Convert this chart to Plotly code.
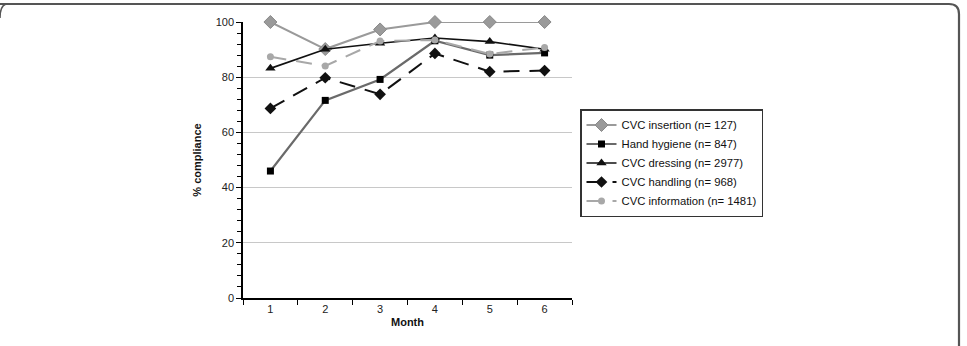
import plotly.graph_objects as go

months = ["1", "2", "3", "4", "5", "6"]
cvc_insertion = [100, 90.2, 97.3, 100, 100, 100]
hand_hygiene = [46, 71.6, 79.2, 93.2, 88.0, 88.8]
cvc_dressing = [83.2, 90.1, 92.3, 94.2, 92.9, 90.1]
cvc_handling = [68.7, 79.8, 73.8, 88.6, 82.0, 82.4]
cvc_information = [87.4, 84.1, 93.1, 93.5, 88.4, 90.8]

names = ["CVC insertion (n= 127)", "Hand hygiene (n= 847)", "CVC dressing (n= 2977)",
         "CVC handling (n= 968)", "CVC information (n= 1481)"]

fig = go.Figure()
fig.add_trace(go.Scatter(x=months, y=cvc_insertion, name=names[0], mode="lines+markers",
                         cliponaxis=False,
                         line=dict(color="#9a9a9a", width=2),
                         marker=dict(symbol="diamond", size=10, color="#9a9a9a",
                                     line=dict(color="#8a8a8a", width=1))))
fig.add_trace(go.Scatter(x=months, y=hand_hygiene, name=names[1], mode="lines+markers",
                         cliponaxis=False,
                         line=dict(color="#6a6a6a", width=2.2),
                         marker=dict(symbol="square", size=7, color="#000000")))
fig.add_trace(go.Scatter(x=months, y=cvc_dressing, name=names[2], mode="lines+markers",
                         cliponaxis=False,
                         line=dict(color="#111111", width=1.6),
                         marker=dict(symbol="triangle-up", size=9, color="#111111")))
fig.add_trace(go.Scatter(x=months, y=cvc_handling, name=names[3], mode="lines+markers",
                         cliponaxis=False,
                         line=dict(color="#111111", width=2, dash="16px,10px"),
                         marker=dict(symbol="diamond", size=9, color="#111111")))
fig.add_trace(go.Scatter(x=months, y=cvc_information, name=names[4], mode="lines+markers",
                         cliponaxis=False,
                         line=dict(color="#a8a8a8", width=2, dash="16px,10px"),
                         marker=dict(symbol="circle", size=7, color="#a8a8a8")))

# plot area: x 243..572, y 22..298 in pixels
L, R, T, B = 243, 572, 22, 298
W, H = 967, 346
pw, ph = R - L, B - T

def px(x):
    return (x - L) / pw

def py(y):
    return (B - y) / ph

# frame (top line with rounded right corner, right edge)
frame_path = (f"M {px(0)} {py(4)} L {px(949)} {py(4)} "
              f"Q {px(959)} {py(4)} {px(959)} {py(14)} L {px(959)} {py(346)}")
fig.add_shape(type="path", path=frame_path, xref="paper", yref="paper",
              line=dict(color="#555555", width=2.2), layer="above")
fig.add_shape(type="path", path=f"M {px(0)} {py(18)} Q {px(0)} {py(6)} {px(6)} {py(4)}",
              xref="paper", yref="paper", line=dict(color="#555555", width=1.5))

fig.update_layout(
    width=W, height=H,
    margin=dict(l=L, r=W - R, t=T, b=H - B),
    paper_bgcolor="white", plot_bgcolor="white",
    font=dict(family="Liberation Sans, Arial, sans-serif", size=11, color="#222222"),
    showlegend=True,
    legend=dict(x=px(580), y=py(109), xanchor="left", yanchor="top",
                bordercolor="#333333", borderwidth=1.5, bgcolor="white",
                font=dict(size=11.3, color="#111111"), tracegroupgap=0,
                itemwidth=30),
    xaxis=dict(type="category", range=[-0.5, 5.5], tickson="boundaries",
               ticks="outside", ticklen=5, tickcolor="#000000",
               showline=True, linecolor="#000000", linewidth=1.5,
               showgrid=False, zeroline=False,
               tickfont=dict(size=11, color="#222222"),
               title=dict(text="<b>Month</b>", font=dict(size=11, color="#111111"), standoff=4)),
    yaxis=dict(range=[0, 100], dtick=20, ticks="outside", ticklen=5, tickcolor="#000000",
               showline=True, linecolor="#000000", linewidth=1.5,
               showgrid=True, gridcolor="#c8c8c8", gridwidth=1, zeroline=False,
               minor=dict(dtick=4, ticks="outside", ticklen=4, tickcolor="#000000", showgrid=False),
               tickfont=dict(size=11, color="#222222"),
               title=dict(text="<b>% compliance</b>", font=dict(size=11, color="#111111"), standoff=12)),
)

fig.write_html("out.html")
